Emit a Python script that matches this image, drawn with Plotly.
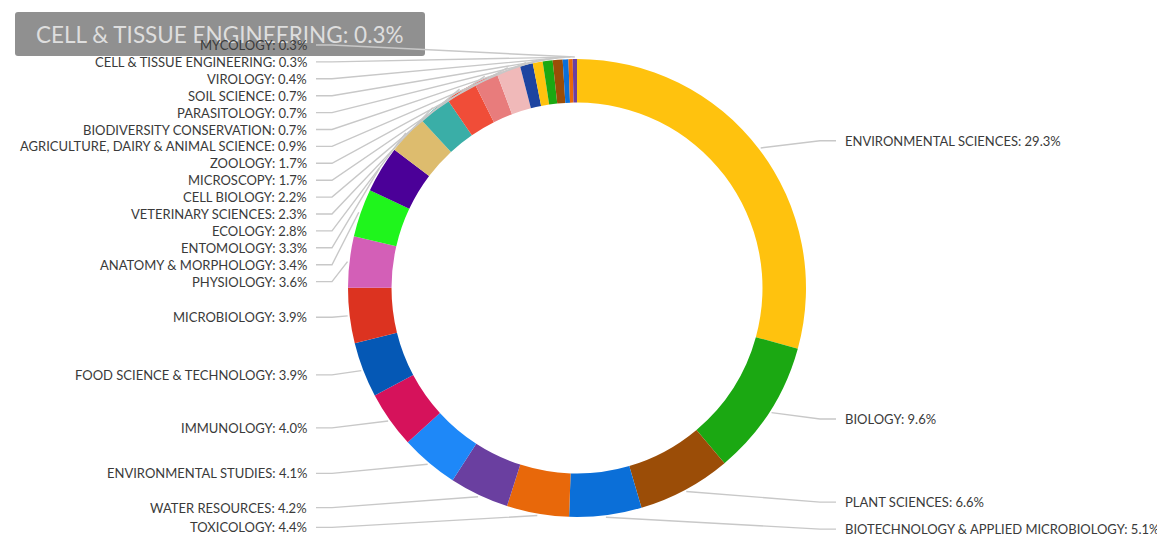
import math
import plotly.graph_objects as go

# ---------------- data ----------------
categories = [
    "ENVIRONMENTAL SCIENCES", "BIOLOGY", "PLANT SCIENCES",
    "BIOTECHNOLOGY & APPLIED MICROBIOLOGY", "TOXICOLOGY", "WATER RESOURCES",
    "ENVIRONMENTAL STUDIES", "IMMUNOLOGY", "FOOD SCIENCE & TECHNOLOGY",
    "MICROBIOLOGY", "PHYSIOLOGY", "ANATOMY & MORPHOLOGY", "ENTOMOLOGY",
    "ECOLOGY", "VETERINARY SCIENCES", "CELL BIOLOGY", "MICROSCOPY", "ZOOLOGY",
    "AGRICULTURE, DAIRY & ANIMAL SCIENCE", "BIODIVERSITY CONSERVATION",
    "PARASITOLOGY", "SOIL SCIENCE", "VIROLOGY", "CELL & TISSUE ENGINEERING",
    "MYCOLOGY",
]
shares = [29.3, 9.6, 6.6, 5.1, 4.4, 4.2, 4.1, 4.0, 3.9, 3.9, 3.6, 3.4, 3.3,
          2.8, 2.3, 2.2, 1.7, 1.7, 0.9, 0.7, 0.7, 0.7, 0.4, 0.3, 0.3]
tooltip_category = "CELL & TISSUE ENGINEERING"

palette = ["#FFC20E", "#1BA812", "#9B4D07", "#0B6FD8", "#E8680A", "#6A3FA0",
           "#1E88F8", "#D6125B", "#0558B5", "#DC3320", "#D35FB7", "#1FF51C",
           "#4B0098", "#DDBC6E", "#3AAEA7", "#F04D38", "#E87C7C", "#F0B9B9",
           "#1D44A0"]

# ---------------- layout geometry ----------------
W, H = 1165, 536          # window size
OFF = 8                   # page body margin of the html page
FW, FH = W - OFF, H - OFF  # figure size actually visible
CX, CY, R = 577, 288, 229
HOLE = 0.81
RL = 243           # radius used for the ideal label height
STEP = 16.9        # minimal vertical spacing between labels
FONT = "Lato"
LABEL_SIZE = 13
LINE_COLOR = "#c8c8c8"
TEXT_COLOR = "#3a3a3a"

colors = [palette[i % len(palette)] for i in range(len(categories))]


def px_x(x):
    return (x - OFF) / FW


def px_y(y):
    return (FH - (y - OFF)) / FH


fig = go.Figure()
fig.add_trace(go.Pie(
    labels=categories, values=shares, hole=HOLE, sort=False,
    direction="clockwise", rotation=0,
    marker=dict(colors=colors, line=dict(width=0)),
    textinfo="none", hoverinfo="skip", showlegend=False,
    domain=dict(x=[px_x(CX - R), px_x(CX + R)],
                y=[px_y(CY + R), px_y(CY - R)]),
))

# ---------------- labels and leader lines ----------------
total = sum(shares)
cum = 0.0
items = []
for name, v in zip(categories, shares):
    mid = (cum + v / 2) / total
    cum += v
    a = 2 * math.pi * mid
    side = "right" if mid < 0.5 else "left"
    items.append(dict(name=name, v=v, a=a, side=side,
                      ideal=CY - RL * math.cos(a)))

for side in ("left", "right"):
    group = sorted([it for it in items if it["side"] == side],
                   key=lambda it: it["ideal"])
    prev = -1e9
    for it in group:
        y = max(it["ideal"], prev + STEP)
        it["y"] = y
        prev = y

shapes = []
annotations = []

# static tooltip box (hover readout) drawn first so lines/labels sit on top
bx0, by0, bx1, by1, rr = 15, 12, 425, 56, 3
shapes.append(dict(
    type="path", xref="x", yref="y", layer="above",
    path=(f"M {bx0+rr},{by0} L {bx1-rr},{by0} Q {bx1},{by0} {bx1},{by0+rr} "
          f"L {bx1},{by1-rr} Q {bx1},{by1} {bx1-rr},{by1} "
          f"L {bx0+rr},{by1} Q {bx0},{by1} {bx0},{by1-rr} "
          f"L {bx0},{by0+rr} Q {bx0},{by0} {bx0+rr},{by0} Z"),
    fillcolor="rgba(125,125,125,0.85)", line=dict(width=0),
))
tip_val = shares[categories.index(tooltip_category)]
annotations.append(dict(
    x=(bx0 + bx1) / 2, y=(by0 + by1) / 2, xref="x", yref="y",
    text=f"{tooltip_category}: {tip_val:.1f}%", showarrow=False,
    font=dict(family=FONT, size=22.5, color="#dedede"),
    xanchor="center", yanchor="middle",
))

for it in items:
    a, y = it["a"], it["y"]
    ex = CX + (R + 2) * math.sin(a)
    ey = CY - (R + 2) * math.cos(a)
    if it["side"] == "left":
        x_txt, x_end, x_knee, anchor = 309, 316, 332, "right"
    else:
        x_txt, x_end, x_knee, anchor = 843, 836, 820, "left"
    shapes.append(dict(
        type="path", xref="x", yref="y", layer="above",
        path=f"M {x_end},{y} L {x_knee},{y} L {ex},{ey}",
        line=dict(color=LINE_COLOR, width=1.4),
    ))
    annotations.append(dict(
        x=x_txt, y=y, xref="x", yref="y",
        text=f"{it['name']}: {it['v']:.1f}%", showarrow=False,
        font=dict(family=FONT, size=LABEL_SIZE, color=TEXT_COLOR),
        xanchor=anchor, yanchor="middle",
    ))

fig.update_layout(
    width=FW, height=FH,
    margin=dict(l=0, r=0, t=0, b=0),
    paper_bgcolor="white", plot_bgcolor="white",
    xaxis=dict(range=[OFF, W], visible=False, fixedrange=True),
    yaxis=dict(range=[H, OFF], visible=False, fixedrange=True),
    shapes=shapes, annotations=annotations,
    showlegend=False,
)

fig.write_html("out.html")
